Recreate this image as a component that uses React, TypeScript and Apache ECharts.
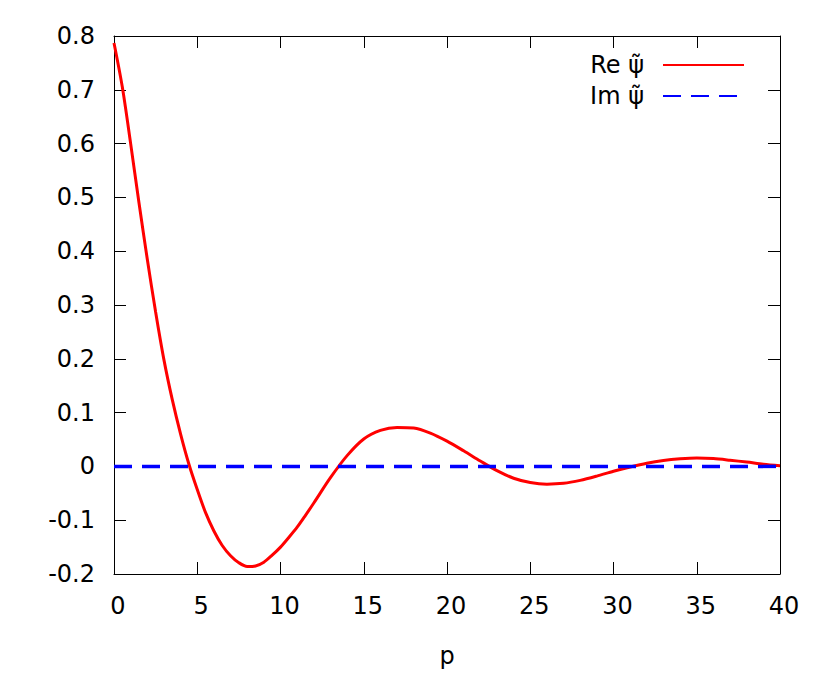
import React, { useEffect, useRef } from "react";
import * as echarts from "echarts";

const pValues = [
  0, 0.5, 1, 1.5, 2, 2.5, 3, 3.5, 4, 4.5, 5, 5.5, 6, 6.5, 7, 7.5, 8, 8.5, 9, 9.5,
  10, 10.5, 11, 11.5, 12, 13, 14, 15, 16, 17, 18, 19, 20, 21, 22, 23, 24, 25, 26,
  27, 28, 29, 30, 31, 32, 33, 34, 35, 36, 37, 38, 39, 40,
];
const reValues = [
  0.787, 0.705, 0.6, 0.49, 0.385, 0.287, 0.198, 0.124, 0.06, 0.004, -0.043, -0.086,
  -0.12, -0.147, -0.166, -0.179, -0.186, -0.185, -0.178, -0.165, -0.15, -0.132,
  -0.113, -0.091, -0.068, -0.021, 0.02, 0.051, 0.067, 0.0725, 0.0715, 0.062, 0.047,
  0.029, 0.01, -0.008, -0.022, -0.03, -0.033, -0.0315, -0.026, -0.018, -0.009,
  -0.001, 0.006, 0.011, 0.014, 0.0155, 0.0145, 0.0115, 0.008, 0.004, 0.001,
];
const imP = [0, 40];
const imValues = [0, 0];
const seriesNames = ["Re ψ\u0303", "Im ψ\u0303"];
const xLabel = "p";

const FONT = "DejaVu Sans";

export default function App() {
  const ref = useRef<HTMLDivElement>(null);
  useEffect(() => {
    if (!ref.current) return;
    const chart = echarts.init(ref.current, null, { renderer: "svg" });
    const axisCommon = {
      axisLine: { show: true, onZero: false, lineStyle: { color: "#000", width: 1 } },
      axisTick: { show: true, inside: true, length: 12, lineStyle: { color: "#000", width: 1 } },
      splitLine: { show: false },
    };
    chart.setOption({
      animation: false,
      backgroundColor: "#fff",
      grid: { left: 114, right: 50, top: 36, bottom: 100, containLabel: false },
      legend: {
        orient: "vertical",
        right: 80,
        top: 48,
        align: "right",
        itemWidth: 81,
        itemHeight: 14,
        itemGap: 7,
        itemStyle: { opacity: 0 },
        textStyle: { fontFamily: FONT, fontSize: 24, color: "#000", padding: [0, 14, 0, 0] },
        data: seriesNames.map((n) => ({ name: n })),
      },
      xAxis: [
        {
          type: "value",
          min: 0,
          max: 40,
          interval: 5,
          position: "bottom",
          name: xLabel,
          nameLocation: "middle",
          nameGap: 70,
          nameTextStyle: { fontFamily: FONT, fontSize: 24, color: "#000" },
          axisLabel: { fontFamily: FONT, fontSize: 24, color: "#000", margin: 20, padding: [0, 0, 0, 8] },
          ...axisCommon,
        },
        {
          type: "value",
          min: 0,
          max: 40,
          interval: 5,
          position: "top",
          axisLabel: { show: false },
          ...axisCommon,
        },
      ],
      yAxis: [
        {
          type: "value",
          min: -0.2,
          max: 0.8,
          interval: 0.1,
          position: "left",
          axisLabel: { fontFamily: FONT, fontSize: 24, color: "#000", margin: 19 },
          ...axisCommon,
        },
        {
          type: "value",
          min: -0.2,
          max: 0.8,
          interval: 0.1,
          position: "right",
          axisLabel: { show: false },
          ...axisCommon,
        },
      ],
      series: [
        {
          name: seriesNames[0],
          type: "line",
          showSymbol: false,
          symbol: "none",
          smooth: 0.3,
          data: pValues.map((p, i) => [p, reValues[i]]),
          lineStyle: { color: "#ff0000", width: 3 },
          itemStyle: { color: "#ff0000" },
          z: 2,
        },
        {
          name: seriesNames[1],
          type: "line",
          showSymbol: false,
          symbol: "none",
          data: imP.map((p, i) => [p, imValues[i]]),
          lineStyle: { color: "#0000ff", width: 3.5, type: [18, 10] },
          itemStyle: { color: "#0000ff" },
          z: 3,
        },
      ],
    });
    return () => chart.dispose();
  }, []);
  return (
    <div
      ref={ref}
      style={{ position: "fixed", left: 0, top: 0, width: 830, height: 674, background: "#fff" }}
    />
  );
}
